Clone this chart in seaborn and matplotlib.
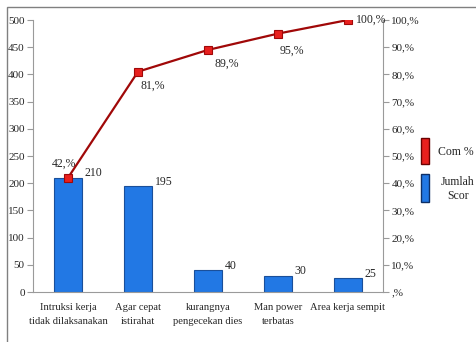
import matplotlib
matplotlib.use("Agg")
import matplotlib.pyplot as plt
from matplotlib.patches import Rectangle
from matplotlib.ticker import FixedLocator
import seaborn as sns
import pandas as pd

categories = ["Intruksi kerja\ntidak dilaksanakan", "Agar cepat\nistirahat",
              "kurangnya\npengecekan dies", "Man power\nterbatas", "Area kerja sempit"]
scores = [210, 195, 40, 30, 25]
cum_pct = [42, 81, 89, 95, 100]
left_ticks = [0, 50, 100, 150, 200, 250, 300, 350, 400, 450, 500]
right_ticks = [0, 10, 20, 30, 40, 50, 60, 70, 80, 90, 100]

sns.set_style("white")
plt.rcParams["font.family"] = ["Liberation Serif", "DejaVu Serif"]
plt.rcParams["font.size"] = 8

bar_color = "#2278e4"
bar_edge = "#1a4f9a"
line_color = "#a00808"
marker_color = "#e8201e"
axis_gray = "#9a9a9a"

fig = plt.figure(figsize=(4.76, 3.42), dpi=100)
fig.patch.set_facecolor("white")
ax = fig.add_axes([33 / 476, 50 / 342, 350 / 476, 272 / 342])

df = pd.DataFrame({"cat": categories, "score": scores})
sns.barplot(data=df, x="cat", y="score", ax=ax, color=bar_color,
            edgecolor=bar_edge, linewidth=0.8, width=0.4, saturation=1)
ax.set_xlim(-0.5, len(categories) - 0.5)
ax.set_ylim(0, 500)
ax.set_yticks(left_ticks)
ax.set_xlabel("")
ax.set_ylabel("")
for lbl in ax.get_xticklabels():
    lbl.set_fontsize(7.6)
    lbl.set_linespacing(1.7)
ax.tick_params(axis="x", which="major", length=0, pad=8)
ax.xaxis.set_minor_locator(FixedLocator([i - 0.5 for i in range(len(categories) + 1)]))
ax.tick_params(axis="x", which="minor", length=5, color=axis_gray, width=0.8)
ax.tick_params(axis="y", length=4, color=axis_gray, width=0.8, pad=2)
for side in ["left", "bottom"]:
    ax.spines[side].set_color(axis_gray)
    ax.spines[side].set_linewidth(0.8)
for side in ["top", "right"]:
    ax.spines[side].set_visible(False)

for i, v in enumerate(scores):
    ax.text(i + 0.24, v + 8, str(v), ha="left", va="center", fontsize=8.5)

ax2 = ax.twinx()
x_pos = list(range(len(categories)))
ax2.plot(x_pos, cum_pct, color=line_color, linewidth=1.6, marker="s",
         markersize=6, markerfacecolor=marker_color, markeredgecolor=line_color,
         markeredgewidth=0.8, zorder=5)
ax2.set_ylim(0, 100)
ax2.set_yticks(right_ticks)
ax2.set_yticklabels([("%d,%%" % t) if t > 0 else ",%" for t in right_ticks])
ax2.tick_params(axis="y", length=4, color=axis_gray, width=0.8, pad=2)
for side in ["left", "bottom", "top"]:
    ax2.spines[side].set_visible(False)
ax2.spines["right"].set_color(axis_gray)
ax2.spines["right"].set_linewidth(0.8)

offsets = [(-0.06, 3, "center", "bottom"), (0.03, -3, "left", "top"),
           (0.1, -3, "left", "top"), (0.2, -4, "center", "top"),
           (0.12, 0, "left", "center")]
for i, (v, (dx, dy, ha, va)) in enumerate(zip(cum_pct, offsets)):
    ax2.text(i + dx, v + dy, "%d,%%" % v, ha=ha, va=va, fontsize=8.5)

# legend drawn as tall swatches beside the right axis
fig.patches.append(Rectangle((421 / 476, 1 - 164 / 342), 8 / 476, 26 / 342,
                             transform=fig.transFigure, facecolor=marker_color,
                             edgecolor="#6a0000", linewidth=1.0))
fig.patches.append(Rectangle((421 / 476, 1 - 202 / 342), 8 / 476, 28 / 342,
                             transform=fig.transFigure, facecolor=bar_color,
                             edgecolor="#0e2f66", linewidth=1.0))
fig.text(456 / 476, 1 - 152 / 342, "Com %", ha="center", va="center", fontsize=8.5)
fig.text(458 / 476, 1 - 189 / 342, "Jumlah\nScor", ha="center", va="center",
         fontsize=8.5, linespacing=1.2)

# outer frame
fig.patches.append(Rectangle((7 / 476, -0.1), 1.2, 1 - 7 / 342 + 0.1,
                             transform=fig.transFigure, fill=False,
                             edgecolor="#808080", linewidth=1.0))

fig.savefig("out.png", dpi=100)
